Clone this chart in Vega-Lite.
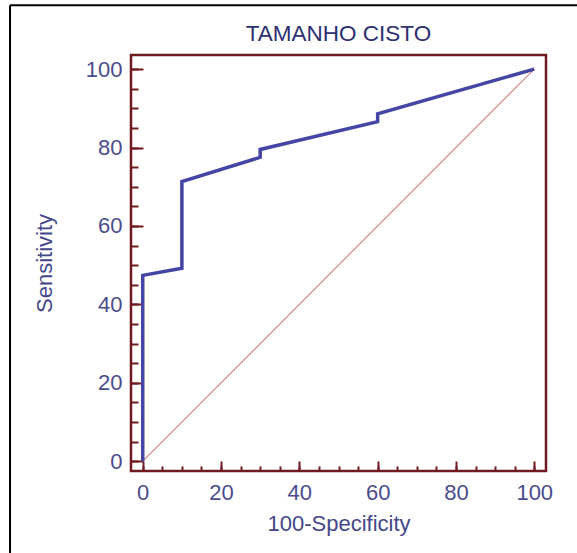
{
  "$schema": "https://vega.github.io/schema/vega-lite/v6.json",
  "width": 415,
  "height": 416,
  "autosize": {"type": "none"},
  "padding": {"left": 131, "top": 55, "right": 31, "bottom": 82},
  "background": "white",
  "title": {
    "text": "TAMANHO CISTO",
    "frame": "group",
    "anchor": "middle",
    "fontSize": 22.5,
    "fontWeight": "normal",
    "font": "Liberation Sans",
    "color": "#2e3070",
    "offset": -41.5
  },
  "config": {
    "view": {"stroke": "#6e1a20", "strokeWidth": 2.5},
    "font": "Liberation Sans"
  },
  "datasets": {
    "roc": [
      {"fpr": 0, "sens": 0},
      {"fpr": 0, "sens": 47.4},
      {"fpr": 10, "sens": 49.2},
      {"fpr": 10, "sens": 71.3},
      {"fpr": 30, "sens": 77.5},
      {"fpr": 30, "sens": 79.5},
      {"fpr": 60, "sens": 86.6},
      {"fpr": 60, "sens": 88.6},
      {"fpr": 100, "sens": 100}
    ],
    "diag": [
      {"fpr": 0, "sens": 0},
      {"fpr": 100, "sens": 100}
    ],
    "frame": [
      {"part": "border"}
    ]
  },
  "resolve": {"axis": {"x": "independent", "y": "independent"}},
  "layer": [
    {
      "data": {"name": "diag"},
      "mark": {"type": "line", "color": "#d08a8a", "strokeWidth": 1.2},
      "encoding": {
        "x": {
          "field": "fpr", "type": "quantitative",
          "scale": {"domain": [-3, 103], "nice": false, "zero": false},
          "axis": {
            "orient": "bottom",
            "title": "100-Specificity",
            "values": [0, 20, 40, 60, 80, 100],
            "domain": false,
            "grid": false,
            "tickSize": -10,
            "tickWidth": 2,
            "tickColor": "#6e1a20",
            "labelPadding": 21.5,
            "labelFontSize": 22,
            "labelColor": "#4b4d8c",
            "titleFontSize": 22,
            "titleFontWeight": "normal",
            "titleColor": "#45478a",
            "titlePadding": 10
          }
        },
        "y": {
          "field": "sens", "type": "quantitative",
          "scale": {"domain": [-2.5, 103.6], "nice": false, "zero": false},
          "axis": {
            "orient": "left",
            "title": "Sensitivity",
            "values": [0, 20, 40, 60, 80, 100],
            "domain": false,
            "grid": false,
            "tickSize": -12,
            "tickWidth": 2,
            "tickColor": "#6e1a20",
            "labelPadding": 21,
            "labelFontSize": 22,
            "labelColor": "#4b4d8c",
            "titleFontSize": 22,
            "titleFontWeight": "normal",
            "titleColor": "#45478a",
            "titlePadding": 29
          }
        }
      }
    },
    {
      "data": {"name": "roc"},
      "mark": {"type": "line", "color": "#4545a5", "strokeWidth": 3.5, "strokeJoin": "miter"},
      "encoding": {
        "x": {
          "field": "fpr", "type": "quantitative",
          "axis": {
            "orient": "bottom",
            "title": null,
            "values": [0, 5, 10, 15, 20, 25, 30, 35, 40, 45, 50, 55, 60, 65, 70, 75, 80, 85, 90, 95, 100],
            "labels": false,
            "domain": false,
            "grid": false,
            "tickSize": -5,
            "tickWidth": 2,
            "tickColor": "#6e1a20"
          }
        },
        "y": {
          "field": "sens", "type": "quantitative",
          "axis": {
            "orient": "left",
            "title": null,
            "values": [0, 5, 10, 15, 20, 25, 30, 35, 40, 45, 50, 55, 60, 65, 70, 75, 80, 85, 90, 95, 100],
            "labels": false,
            "domain": false,
            "grid": false,
            "tickSize": -7,
            "tickWidth": 2,
            "tickColor": "#6e1a20"
          }
        }
      }
    },
    {
      "data": {"name": "frame"},
      "mark": {"type": "rule", "color": "#000000", "strokeWidth": 2, "clip": false},
      "encoding": {
        "x": {"datum": -33.9, "type": "quantitative", "axis": null},
        "y": {"datum": 116.3, "type": "quantitative", "axis": null},
        "y2": {"datum": -30}
      }
    },
    {
      "data": {"name": "frame"},
      "mark": {"type": "rule", "color": "#000000", "strokeWidth": 2, "clip": false},
      "encoding": {
        "x": {"datum": -33.9, "type": "quantitative", "axis": null},
        "x2": {"datum": 115},
        "y": {"datum": 116.3, "type": "quantitative", "axis": null}
      }
    }
  ]
}
